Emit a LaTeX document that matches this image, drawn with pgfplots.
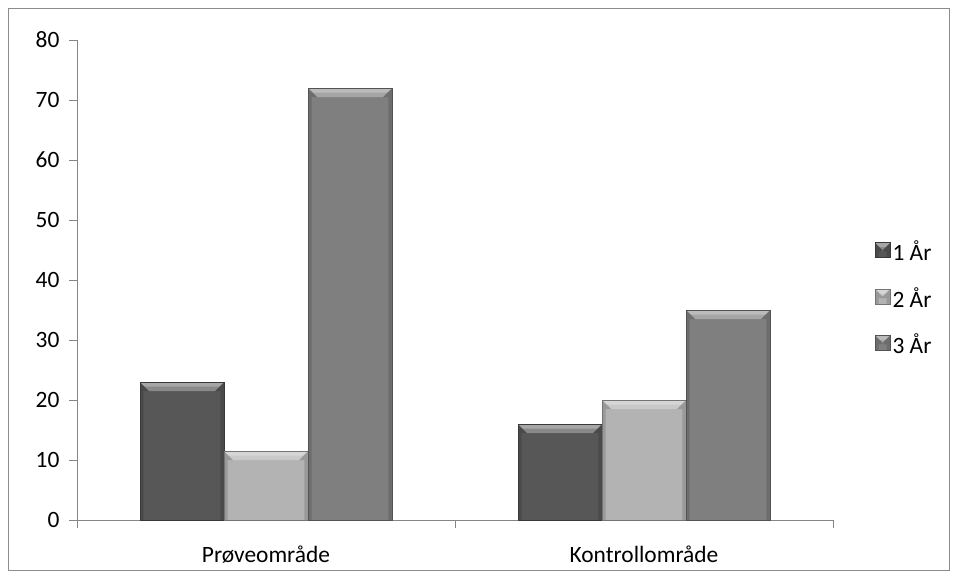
\documentclass[border=0pt]{standalone}
\usepackage{pgfplots}
\pgfplotsset{compat=1.18}
\usepackage{fontspec}
\setmainfont{Carlito}

\definecolor{barA}{HTML}{575757}
\definecolor{barB}{HTML}{B3B3B3}
\definecolor{barC}{HTML}{7F7F7F}
\definecolor{axisgrey}{HTML}{868686}
\definecolor{framegrey}{HTML}{8C8C8C}

\newcommand\chartfont{\fontsize{23.5}{27}\selectfont}

% bevelled bar: light top band with mitred corners, darker side bands
\def\bnw{path picture bounding box.north west}
\def\bne{path picture bounding box.north east}
\def\bsw{path picture bounding box.south west}
\def\bse{path picture bounding box.south east}
\tikzset{
  flat/.style={path picture={}, draw=none},
  bevel/.style={
    path picture={
      \fill[flat, white, opacity=0.30] (\bnw) -- (\bne) -- ([shift={(-#1,-#1)}]\bne) -- ([shift={(#1,-#1)}]\bnw) -- cycle;
      \fill[flat, white, opacity=0.25] (\bnw) -- (\bne) -- ([shift={(-#1*0.5,-#1*0.5)}]\bne) -- ([shift={(#1*0.5,-#1*0.5)}]\bnw) -- cycle;
      \fill[flat, black, opacity=0.14] (\bnw) -- ([shift={(#1,-#1)}]\bnw) -- ([shift={(#1*0.4,-#1)}]\bnw) -- ([xshift=#1*0.4]\bsw) -- (\bsw) -- cycle;
      \fill[flat, black, opacity=0.14] (\bne) -- ([shift={(-#1,-#1)}]\bne) -- ([shift={(-#1*0.4,-#1)}]\bne) -- ([xshift=-#1*0.4]\bse) -- (\bse) -- cycle;
    }
  },
}

\pgfplotsset{
  bevelbar/.style={fill=#1, draw=#1!65!black, line width=0.8bp, bevel=9bp},
}

\begin{document}
\begin{tikzpicture}
  \path[use as bounding box] (0bp,0bp) rectangle (957bp,-578bp);
  \draw[framegrey, line width=0.8bp] (8bp,-8bp) rectangle (949bp,-570bp);
  \begin{axis}[
    at={(77bp,-520bp)}, anchor=south west,
    scale only axis, width=756bp, height=480bp,
    ymin=0, ymax=80, ytick={0,10,...,80},
    xmin=-0.5, xmax=1.5,
    xtick={0,1}, xticklabels={Prøveområde, Kontrollområde},
    minor xtick={-0.5,0.5,1.5},
    major x tick style={draw=none},
    minor x tick style={axisgrey, line width=0.8bp},
    minor tick length=8bp,
    major tick length=8bp,
    tick align=outside,
    axis x line*=bottom, axis y line*=left,
    axis line style={axisgrey, line width=0.8bp, -},
    y tick style={axisgrey, line width=0.8bp},
    font=\chartfont,
    tick label style={font=\chartfont, text=black},
    /pgf/number format/assume math mode=true,
    yticklabel style={xshift=-6bp},
    xticklabel style={yshift=-14bp},
    ybar=0pt, bar width=84bp,
    legend style={draw=none, fill=none, at={(rel axis cs:1.051,0.4625)}, anchor=west,
      font=\chartfont, row sep=21bp,
      /tikz/every even column/.append style={column sep=6bp}},
    legend cell align=left,
    legend image code/.code={\fill[#1] (0bp,-6bp) rectangle (15bp,9bp);},
  ]
    % one plot per bar so that each bar gets its own bevel
    \addplot[bevelbar=barA, bar shift=-84bp] coordinates {(0,23)};
    \addplot[bevelbar=barB, bar shift=0bp]   coordinates {(0,11.5)};
    \addplot[bevelbar=barC, bar shift=84bp]  coordinates {(0,72)};
    \addplot[bevelbar=barA, bar shift=-84bp, forget plot] coordinates {(1,16)};
    \addplot[bevelbar=barB, bar shift=0bp,   forget plot] coordinates {(1,20)};
    \addplot[bevelbar=barC, bar shift=84bp,  forget plot] coordinates {(1,35)};
    \legend{1 År, 2 År, 3 År}
  \end{axis}
\end{tikzpicture}
\end{document}
